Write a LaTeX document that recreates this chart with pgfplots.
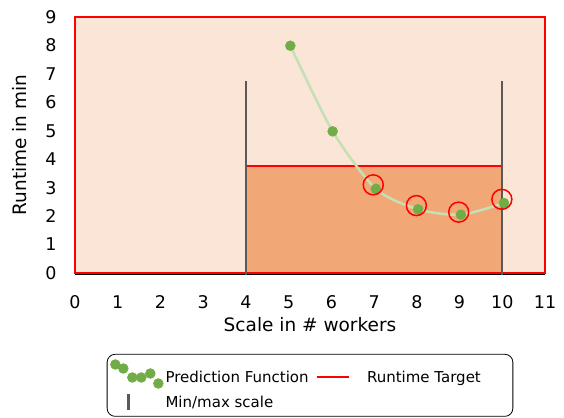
\documentclass[border=0pt]{standalone}
\usepackage{pgfplots}
\pgfplotsset{compat=1.18}
\usepackage{fontspec}
\setmainfont{DejaVu Sans}
\definecolor{bgorange}{HTML}{FBE5D6}
\definecolor{fillorange}{HTML}{F1A876}
\definecolor{ptgreen}{HTML}{70AD47}
\definecolor{lngreen}{HTML}{C5E0B4}
\definecolor{mmgray}{HTML}{595959}
\begin{document}
\begin{tikzpicture}
\begin{axis}[
  name=ax,
  scale only axis, width=470pt, height=256pt,
  xmin=0, xmax=11, ymin=0, ymax=9,
  xtick={0,...,11}, ytick={0,...,9},
  axis line style={draw=none},
  major tick length=0pt,
  /pgf/number format/assume math mode=true,
  tick label style={font=\fontsize{17.5}{20}\selectfont},
  xticklabel style={yshift=-19pt},
  yticklabel style={xshift=-15pt},
  label style={font=\fontsize{18.5}{22}\selectfont},
  xlabel={Scale in \# workers},
  ylabel={Runtime in min},
  xlabel style={yshift=-2pt},
  ylabel style={yshift=12pt},
  clip=false,
  legend style={at={(0.5,-0.316)}, anchor=north, draw=black, rounded corners=8pt,
    font=\fontsize{15}{18}\selectfont, line width=0.8pt,
    inner xsep=3pt, inner ysep=5pt, row sep=4pt,
    /tikz/every even column/.append style={column sep=5pt}},
  legend columns=2,
  legend cell align=left,
]
% background plot area
\addplot[fill=bgorange, draw=red, line width=1.8pt, forget plot]
  coordinates {(0,0) (11,0) (11,9) (0,9)} -- cycle;
% feasible area
\addplot[fill=fillorange, draw=none, forget plot]
  coordinates {(4,0) (10,0) (10,3.77) (4,3.77)} -- cycle;
% runtime target
\addplot[red, line width=2.4pt, forget plot] coordinates {(4,3.77) (10,3.77)};
\addplot[red, line width=1.8pt, forget plot] coordinates {(0,0) (11,0)};
\addplot[black, line width=0.6pt, forget plot] coordinates {(0,-0.045) (11,-0.045)};
% min/max scale
\addplot[mmgray, line width=2.4pt, forget plot] coordinates {(4,-0.08) (4,6.75)};
\addplot[mmgray, line width=2.4pt, forget plot] coordinates {(10,-0.08) (10,6.75)};
% prediction function
\addplot[lngreen, line width=2.5pt, smooth, tension=0.45, forget plot]
  coordinates {(5.04,7.99) (6.03,4.98) (7.04,2.96) (8.03,2.24) (9.03,2.05) (10.04,2.46)};
\addplot[only marks, mark=*, mark size=5pt, ptgreen, forget plot]
  coordinates {(5.04,7.99) (6.03,4.98) (7.04,2.96) (8.03,2.24) (9.03,2.05) (10.04,2.46)};
% selected configurations
\addplot[only marks, mark=o, mark size=10pt, red, line width=1.5pt, forget plot]
  coordinates {(6.98,3.10) (7.99,2.37) (8.98,2.14) (9.99,2.59)};
% legend
\addlegendimage{legend image code/.code={
  \fill[ptgreen] (0pt,13pt) circle (4.8pt);
  \fill[ptgreen] (8pt,9pt) circle (4.8pt);
  \fill[ptgreen] (17pt,0pt) circle (4.8pt);
  \fill[ptgreen] (26pt,0pt) circle (4.8pt);
  \fill[ptgreen] (35pt,4pt) circle (4.8pt);
  \fill[ptgreen] (43pt,-6pt) circle (4.8pt);
}}
\addlegendentry{Prediction Function}
\addlegendimage{legend image code/.code={
  \draw[red, line width=2pt] (0pt,0pt) -- (32pt,0pt);
  \path (48pt,0pt);
}}
\addlegendentry{Runtime Target\hspace*{27pt}}
\addlegendimage{legend image code/.code={
  \draw[mmgray, line width=2.4pt] (13pt,-7pt) -- (13pt,9pt);
}}
\addlegendentry{Min/max scale}
\end{axis}
\pgfresetboundingbox
\path (ax.south west) ++(-75pt,-144pt) rectangle ([xshift=19pt,yshift=17pt]ax.north east);
\end{tikzpicture}
\end{document}
